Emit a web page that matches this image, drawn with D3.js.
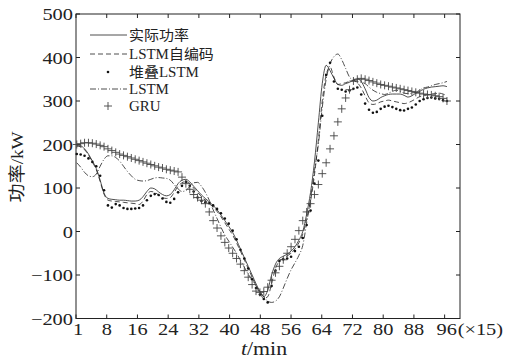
<!DOCTYPE html>
<html>
<head>
<meta charset="utf-8">
<script src="https://cdn.jsdelivr.net/npm/d3@7"></script>
<style>
  body { margin: 0; background: #fff; }
  svg { display: block; }
  text { font-family: "Liberation Serif", "Noto Sans CJK SC", serif; fill: #222; }
</style>
</head>
<body>
<svg id="chart" width="509" height="360"></svg>
<script>
// series values, one per 15-min step (1..96)
const actual = [
  198, 197, 190, 178, 162, 145, 118, 88, 76, 74,
  73, 72, 72, 71, 70, 70, 72, 80, 92, 100,
  98, 91, 85, 82, 85, 96, 110, 118, 120, 114,
  104, 94, 84, 76, 68, 60, 50, 38, 25, 12,
  -2, -20, -40, -60, -80, -100, -120, -138, -150, -135,
  -100, -75, -62, -57, -52, -45, -35, -20, 0, 40,
  90, 160, 250, 340, 382, 370, 352, 338, 336, 340,
  343, 348, 351, 345, 328, 308, 300, 302, 308, 312,
  315, 316, 316, 316, 313, 309, 312, 318, 322, 327,
  330, 332, 333, 334, 335, 333
];
const lstmAE = [
  196, 195, 188, 176, 160, 142, 115, 86, 72, 70,
  69, 68, 67, 66, 65, 64, 62, 70, 85, 92,
  90, 84, 78, 76, 78, 90, 104, 112, 115, 110,
  100, 90, 80, 72, 64, 56, 46, 34, 20, 6,
  -8, -26, -45, -65, -85, -105, -125, -142, -154, -150,
  -120, -85, -68, -62, -56, -50, -40, -26, -6, 28,
  70, 130, 210, 300, 360, 378, 355, 338, 340, 342,
  345, 346, 342, 330, 312, 296, 292, 294, 298, 300,
  302, 300, 298, 296, 294, 296, 300, 305, 310, 312,
  314, 316, 317, 318, 316, 312
];
const stackedLSTM = [
  178, 177, 174, 168, 160, 150, 128, 95, 60, 55,
  63, 60, 54, 52, 52, 53, 54, 60, 72, 82,
  86, 84, 76, 68, 66, 75, 90, 105, 114, 105,
  92, 78, 70, 67, 65, 60, 52, 42, 30, 18,
  2, -18, -42, -62, -85, -110, -130, -145, -155, -163,
  -125, -90, -68, -64, -62, -58, -45, -35, -15, 15,
  48, 110, 163, 266, 360, 388, 345, 328, 326, 322,
  324, 328, 331, 315, 294, 280, 273, 275, 282, 287,
  289, 286, 282, 279, 278, 282, 285, 292, 300, 304,
  307, 308, 306, 305, 302, 300
];
const lstm = [
  158, 148, 136, 128, 126, 132, 150, 166, 174, 174,
  170, 162, 150, 138, 128, 120, 117, 116, 117, 120,
  123, 124, 123, 122, 118, 108, 98, 92, 94, 104,
  112, 113, 104, 90, 72, 50, 30, 10, -8, -22,
  -36, -50, -66, -82, -98, -112, -125, -138, -150, -160,
  -163, -160, -150, -130, -108, -88, -72, -55, -32, 20,
  75, 140, 200, 285, 350, 385, 402, 408, 395, 375,
  355, 348, 345, 343, 340, 332, 325, 320, 317, 315,
  318, 322, 325, 322, 318, 317, 318, 320, 325, 330,
  332, 335, 338, 340, 342, 345
];
const gru = [
  200, 202, 204, 204, 203, 201, 198, 195, 190, 186,
  182, 178, 175, 172, 169, 166, 163, 160, 157, 154,
  151, 148, 146, 143, 141, 139, 137, 125, 110, 97,
  85, 78, 72, 64, 45, 25, 8, -10, -25, -38,
  -50, -62, -75, -90, -105, -122, -137, -140, -138, -128,
  -112, -95, -80, -65, -50, -35, -18, 2, 25, 45,
  64, 85, 108, 133, 158, 190, 220, 252, 282, 307,
  326, 346, 350, 352, 350, 347, 344, 341, 338, 336,
  334, 332, 330, 328, 326, 324, 322, 320, 318, 316,
  315, 314, 312, 310, 306, 300
];

const xTicks = [0, 8, 16, 24, 32, 40, 48, 56, 64, 72, 80, 88, 96];
const xTickLabels = ["1", "8", "16", "24", "32", "40", "48", "56", "64", "72", "80", "88", "96"];
const yTicks = [-200, -100, 0, 100, 200, 300, 400, 500];
const legendLabels = ["实际功率", "LSTM自编码", "堆叠LSTM", "LSTM", "GRU"];

const svg = d3.select("#chart");
const m = { left: 76, right: 460, top: 14, bottom: 318.5 };

const x = d3.scaleLinear().domain([0, 100]).range([m.left, m.right]);
const y = d3.scaleLinear().domain([-200, 500]).range([m.bottom, m.top]);

// step k (1..96) sits slightly inside the 0..100 axis
const tOf = i => 0.2 + i * 96.4 / 95;

const line = d3.line()
  .x((d, i) => x(tOf(i)))
  .y(d => y(d))
  .curve(d3.curveMonotoneX);

const ink = "#222";

// the source figure's type is a bit wide, so stretch text horizontally
function stext(g, tx, ty, size, anchor, sx, rot) {
  return g.append("text")
    .attr("transform", `translate(${tx},${ty})` + (rot ? ` rotate(${rot})` : "") + ` scale(${sx},1)`)
    .attr("text-anchor", anchor)
    .style("font-size", size + "px");
}

// frame with inward ticks
svg.append("rect")
  .attr("x", m.left).attr("y", m.top)
  .attr("width", m.right - m.left).attr("height", m.bottom - m.top)
  .attr("fill", "none").attr("stroke", ink).attr("stroke-width", 1);

const tk = 4;
const fmt = v => v < 0 ? "\u2212" + Math.abs(v) : String(v);

const gx = svg.append("g");
xTicks.forEach((t, i) => {
  gx.append("line").attr("x1", x(t)).attr("x2", x(t)).attr("y1", m.bottom).attr("y2", m.bottom - tk).attr("stroke", ink);
  gx.append("line").attr("x1", x(t)).attr("x2", x(t)).attr("y1", m.top).attr("y2", m.top + tk).attr("stroke", ink);
  stext(gx, x(t) + (i === 0 ? 2 : i === 12 ? 2 : 0), 335, 17, "middle", 1.2)
    .text(xTickLabels[i]);
});
stext(svg, x(96) + 13, 335, 17, "start", 1.2).text("(\u00d715)");

const gy = svg.append("g");
yTicks.forEach(v => {
  gy.append("line").attr("x1", m.left).attr("x2", m.left + tk).attr("y1", y(v)).attr("y2", y(v)).attr("stroke", ink);
  gy.append("line").attr("x1", m.right).attr("x2", m.right - tk).attr("y1", y(v)).attr("y2", y(v)).attr("stroke", ink);
  stext(gy, m.left - 3, y(v) + 6, 17, "end", 1.2).text(fmt(v));
});

// axis titles
const xl = stext(svg, 264, 355, 19, "middle", 1.15);
xl.append("tspan").style("font-style", "italic").text("t");
xl.append("tspan").text("/min");

stext(svg, 23, 167, 17, "middle", 1.12, -90).text("功率/kW");

// series
const plot = svg.append("g");

plot.append("path").datum(lstm)
  .attr("d", line).attr("fill", "none")
  .attr("stroke", ink).attr("stroke-width", 0.8)
  .attr("stroke-dasharray", "6,2,1,2");

plot.append("path").datum(lstmAE)
  .attr("d", line).attr("fill", "none")
  .attr("stroke", ink).attr("stroke-width", 0.8)
  .attr("stroke-dasharray", "5,3");

plot.append("path").datum(actual)
  .attr("d", line).attr("fill", "none")
  .attr("stroke", ink).attr("stroke-width", 0.8);

plot.selectAll(".dot").data(stackedLSTM).enter()
  .append("circle")
  .attr("class", "dot")
  .attr("cx", (d, i) => x(tOf(i)))
  .attr("cy", d => y(d))
  .attr("r", 1.3)
  .attr("fill", "#111");

const ps = 4;
plot.selectAll(".plus").data(gru).enter()
  .append("path")
  .attr("class", "plus")
  .attr("d", (d, i) => {
    const cx = x(tOf(i)), cy = y(d);
    return `M${cx - ps},${cy}H${cx + ps}M${cx},${cy - ps}V${cy + ps}`;
  })
  .attr("stroke", "#444").attr("stroke-width", 0.9).attr("fill", "none");

// legend
const lg = svg.append("g");
const rows = [35, 54, 72, 89, 106];
const lx0 = 90, lx1 = 127;
rows.forEach((ry, i) => {
  if (i === 0) {
    lg.append("line").attr("x1", lx0).attr("x2", lx1).attr("y1", ry).attr("y2", ry)
      .attr("stroke", ink).attr("stroke-width", 0.8);
  } else if (i === 1) {
    lg.append("line").attr("x1", lx0).attr("x2", lx1).attr("y1", ry).attr("y2", ry)
      .attr("stroke", ink).attr("stroke-width", 0.8).attr("stroke-dasharray", "5,3");
  } else if (i === 2) {
    lg.append("circle").attr("cx", 108).attr("cy", ry).attr("r", 1.3).attr("fill", "#111");
  } else if (i === 3) {
    lg.append("line").attr("x1", lx0).attr("x2", lx1).attr("y1", ry).attr("y2", ry)
      .attr("stroke", ink).attr("stroke-width", 0.8).attr("stroke-dasharray", "6,2,1,2");
  } else {
    lg.append("path").attr("d", `M${108 - ps},${ry}H${108 + ps}M108,${ry - ps}V${ry + ps}`)
      .attr("stroke", "#444").attr("stroke-width", 0.9);
  }
  stext(lg, 129, ry + 5, 14, "start", 1.07).text(legendLabels[i]);
});
</script>
</body>
</html>
